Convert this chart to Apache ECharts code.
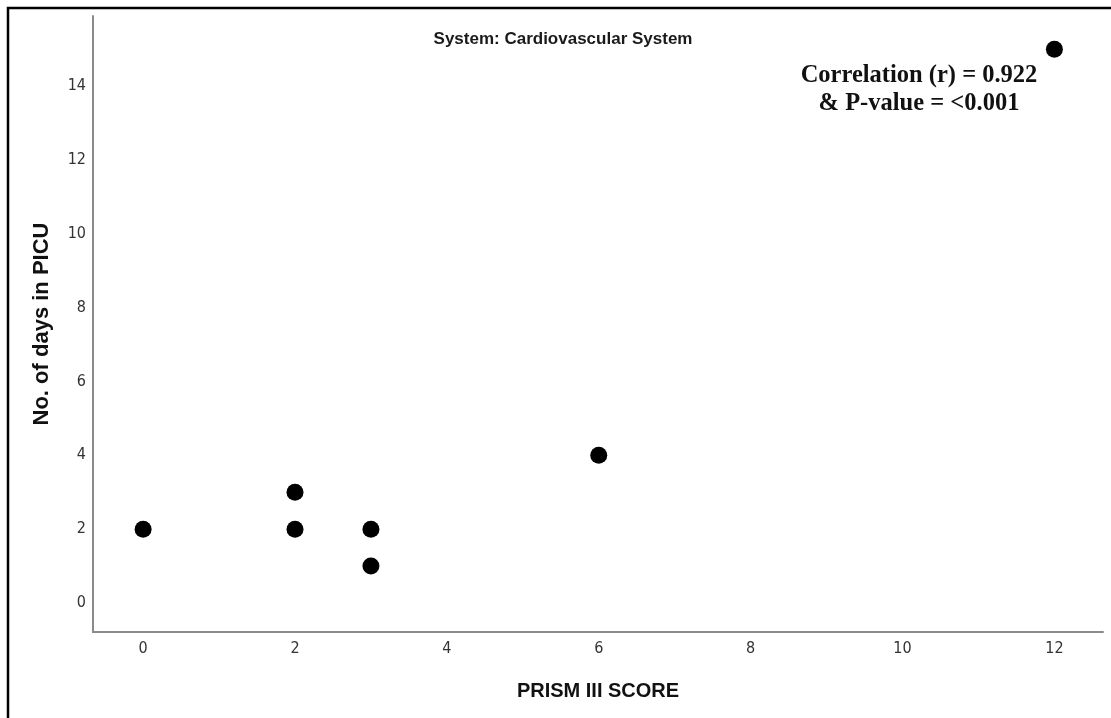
<!DOCTYPE html>
<html><head><meta charset="utf-8">
<script src="https://cdn.jsdelivr.net/npm/echarts@6/dist/echarts.min.js"></script>
<style>html,body{margin:0;padding:0;background:#fff;}#c{width:1111px;height:718px;}</style>
</head><body><div id="c"></div>
<script>
const prismScore = [0, 2, 2, 3, 3, 6, 12];
const daysInPicu = [2, 3, 2, 2, 1, 4, 15];
const xTicks = [0, 2, 4, 6, 8, 10, 12];
const yTicks = [0, 2, 4, 6, 8, 10, 12, 14];
const titleText = 'System: Cardiovascular System';
const noteLines = ['Correlation (r) = 0.922', '& P-value = <0.001'];

const points = prismScore.map((x, i) => [x, daysInPicu[i]]);
const tickFont = '"Liberation Sans Narrow", "Arial Narrow", "DejaVu Sans Condensed", sans-serif';
const chart = echarts.init(document.getElementById('c'), null, {renderer: 'canvas'});
chart.setOption({
  animation: false,
  backgroundColor: '#fff',
  graphic: [
    {type: 'rect', shape: {x: 8, y: 8, width: 1120, height: 730}, style: {fill: 'none', stroke: '#000', lineWidth: 2.5}, silent: true},
    {type: 'text', x: 563, y: 39, style: {text: titleText, font: 'bold 17px Arial, "Liberation Sans", sans-serif', fill: '#1a1a1a', align: 'center', verticalAlign: 'middle'}},
    {type: 'text', x: 919, y: 76, style: {text: noteLines[0], font: 'bold 24.5px "Liberation Serif", "Times New Roman", serif', fill: '#111', align: 'center', verticalAlign: 'middle'}},
    {type: 'text', x: 919, y: 104, style: {text: noteLines[1], font: 'bold 24.5px "Liberation Serif", "Times New Roman", serif', fill: '#111', align: 'center', verticalAlign: 'middle'}}
  ],
  grid: {left: 93, top: 16, width: 1010, height: 616, containLabel: false},
  xAxis: {
    type: 'value', min: -0.66, max: 12.64,
    name: 'PRISM III SCORE', nameLocation: 'middle', nameGap: 49,
    nameTextStyle: {fontFamily: 'Arial, "Liberation Sans", sans-serif', fontSize: 20, fontWeight: 'bold', color: '#111'},
    axisLine: {show: true, onZero: false, lineStyle: {color: '#8a8a8a', width: 2}},
    axisTick: {show: false}, splitLine: {show: false},
    axisLabel: {customValues: xTicks, color: '#333', fontSize: 16, fontFamily: tickFont, margin: 9}
  },
  yAxis: {
    type: 'value', min: -0.785, max: 15.9,
    name: 'No. of days in PICU', nameLocation: 'middle', nameGap: 40,
    nameTextStyle: {fontFamily: 'Arial, "Liberation Sans", sans-serif', fontSize: 22, fontWeight: 'bold', color: '#111'},
    axisLine: {show: true, onZero: false, lineStyle: {color: '#8a8a8a', width: 2}},
    axisTick: {show: false}, splitLine: {show: false},
    axisLabel: {customValues: yTicks, color: '#333', fontSize: 16, fontFamily: tickFont, margin: 7}
  },
  series: [{
    type: 'scatter', data: points, symbol: 'circle', symbolSize: 17,
    itemStyle: {color: '#000', opacity: 1}
  }]
});
</script></body></html>
